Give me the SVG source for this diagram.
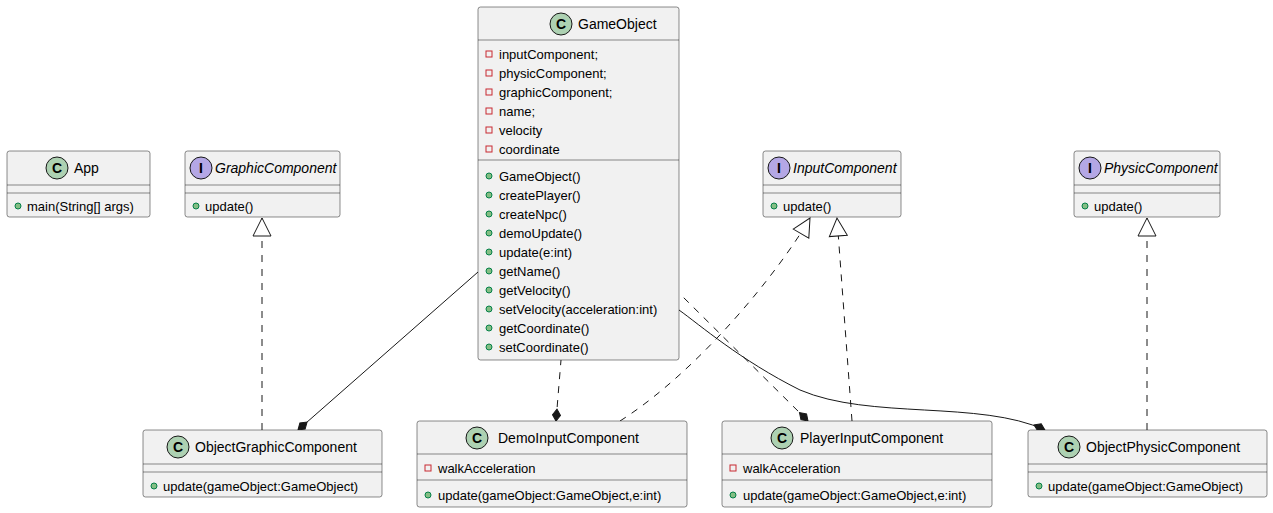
<svg xmlns="http://www.w3.org/2000/svg" width="1273" height="513" viewBox="0 0 1273 513">
<style>
.box{fill:#F1F1F1;stroke:#181818;stroke-width:0.5}
.sep{stroke:#181818;stroke-width:0.5}
text{font-family:"Liberation Sans",Arial,sans-serif;fill:#000}
.n{font-size:14px}
.i{font-size:14px;font-style:italic}
.m{font-size:13px}
.ci{stroke:#181818;stroke-width:1}
.cl{font-size:14px;font-weight:bold;text-anchor:middle}
.pub{fill:#84BE84;stroke:#038048;stroke-width:1}
.priv{fill:none;stroke:#C82930;stroke-width:1}
.e{fill:none;stroke:#181818;stroke-width:1}
.d{stroke-dasharray:7,7}
</style>
<defs>
<marker id="tri" viewBox="0 0 20 20" refX="19" refY="10" markerWidth="20" markerHeight="20" markerUnits="userSpaceOnUse" orient="auto"><path d="M1,1 L19,10 L1,19 Z" fill="#fff" stroke="#181818"/></marker>
<marker id="dia" viewBox="0 0 14 10" refX="1" refY="5" markerWidth="14" markerHeight="10" markerUnits="userSpaceOnUse" orient="auto"><path d="M1,5 L7,1 L13,5 L7,9 Z" fill="#181818" stroke="#181818"/></marker>
</defs>
<g id="edges">
<path class="e d" d="M262,430 L262,218" marker-end="url(#tri)"/>
<path class="e d" d="M620,421 C700,370 780,270 810,218" marker-end="url(#tri)"/>
<path class="e d" d="M852,421 L837,218" marker-end="url(#tri)"/>
<path class="e d" d="M1147,430 L1147,218" marker-end="url(#tri)"/>
<path class="e" d="M298,430 L478,272" marker-start="url(#dia)"/>
<path class="e d" d="M556,421 L561,360" marker-start="url(#dia)"/>
<path class="e d" d="M808,421 L679,293" marker-start="url(#dia)"/>
<path class="e" d="M1045,430 C980,400 870,420 800,390 C740,360 700,325 679,310" marker-start="url(#dia)"/>
</g>
<g id="App">
<rect class="box" x="7" y="151" width="143" height="66" rx="2.5"/>
<circle class="ci" cx="57" cy="168" r="11" fill="#ADD1B2"/><text class="cl" x="57" y="173">C</text>
<text class="n" x="74" y="173">App</text>
<line class="sep" x1="7" y1="185" x2="150" y2="185"/><line class="sep" x1="7" y1="193" x2="150" y2="193"/>
<circle class="pub" cx="18" cy="206" r="3"/><text class="m" x="27" y="211">main(String[] args)</text>
</g>
<g id="GraphicComponent">
<rect class="box" x="185" y="151" width="155" height="66" rx="2.5"/>
<circle class="ci" cx="201" cy="168" r="11" fill="#B4A7E5"/><text class="cl" x="201" y="173">I</text>
<text class="i" x="215" y="173">GraphicComponent</text>
<line class="sep" x1="185" y1="185" x2="340" y2="185"/><line class="sep" x1="185" y1="193" x2="340" y2="193"/>
<circle class="pub" cx="196" cy="206" r="3"/><text class="m" x="205" y="211">update()</text>
</g>
<g id="GameObject">
<rect class="box" x="478" y="7" width="201" height="353" rx="2.5"/>
<circle class="ci" cx="561" cy="24" r="11" fill="#ADD1B2"/><text class="cl" x="561" y="29">C</text>
<text class="n" x="578" y="29">GameObject</text>
<line class="sep" x1="478" y1="40" x2="679" y2="40"/>
<g class="m">
<rect class="priv" x="486" y="51" width="6" height="6"/><text class="m" x="499" y="59">inputComponent;</text>
<rect class="priv" x="486" y="70" width="6" height="6"/><text class="m" x="499" y="78">physicComponent;</text>
<rect class="priv" x="486" y="89" width="6" height="6"/><text class="m" x="499" y="97">graphicComponent;</text>
<rect class="priv" x="486" y="108" width="6" height="6"/><text class="m" x="499" y="116">name;</text>
<rect class="priv" x="486" y="127" width="6" height="6"/><text class="m" x="499" y="135">velocity</text>
<rect class="priv" x="486" y="146" width="6" height="6"/><text class="m" x="499" y="154">coordinate</text>
</g>
<line class="sep" x1="478" y1="160" x2="679" y2="160"/>
<circle class="pub" cx="489" cy="176" r="3"/><text class="m" x="499" y="181">GameObject()</text>
<circle class="pub" cx="489" cy="195" r="3"/><text class="m" x="499" y="200">createPlayer()</text>
<circle class="pub" cx="489" cy="214" r="3"/><text class="m" x="499" y="219">createNpc()</text>
<circle class="pub" cx="489" cy="233" r="3"/><text class="m" x="499" y="238">demoUpdate()</text>
<circle class="pub" cx="489" cy="252" r="3"/><text class="m" x="499" y="257">update(e:int)</text>
<circle class="pub" cx="489" cy="271" r="3"/><text class="m" x="499" y="276">getName()</text>
<circle class="pub" cx="489" cy="290" r="3"/><text class="m" x="499" y="295">getVelocity()</text>
<circle class="pub" cx="489" cy="309" r="3"/><text class="m" x="499" y="314">setVelocity(acceleration:int)</text>
<circle class="pub" cx="489" cy="328" r="3"/><text class="m" x="499" y="333">getCoordinate()</text>
<circle class="pub" cx="489" cy="347" r="3"/><text class="m" x="499" y="352">setCoordinate()</text>
</g>
<g id="InputComponent">
<rect class="box" x="763" y="151" width="138" height="66" rx="2.5"/>
<circle class="ci" cx="779" cy="168" r="11" fill="#B4A7E5"/><text class="cl" x="779" y="173">I</text>
<text class="i" x="793" y="173">InputComponent</text>
<line class="sep" x1="763" y1="185" x2="901" y2="185"/><line class="sep" x1="763" y1="193" x2="901" y2="193"/>
<circle class="pub" cx="774" cy="206" r="3"/><text class="m" x="783" y="211">update()</text>
</g>
<g id="PhysicComponent">
<rect class="box" x="1074" y="151" width="146" height="66" rx="2.5"/>
<circle class="ci" cx="1090" cy="168" r="11" fill="#B4A7E5"/><text class="cl" x="1090" y="173">I</text>
<text class="i" x="1104" y="173">PhysicComponent</text>
<line class="sep" x1="1074" y1="185" x2="1220" y2="185"/><line class="sep" x1="1074" y1="193" x2="1220" y2="193"/>
<circle class="pub" cx="1085" cy="206" r="3"/><text class="m" x="1094" y="211">update()</text>
</g>
<g id="ObjectGraphicComponent">
<rect class="box" x="143" y="430" width="239" height="67" rx="2.5"/>
<circle class="ci" cx="178" cy="447" r="11" fill="#ADD1B2"/><text class="cl" x="178" y="452">C</text>
<text class="n" x="195" y="452">ObjectGraphicComponent</text>
<line class="sep" x1="143" y1="464" x2="382" y2="464"/><line class="sep" x1="143" y1="472" x2="382" y2="472"/>
<circle class="pub" cx="154" cy="486" r="3"/><text class="m" x="163" y="491">update(gameObject:GameObject)</text>
</g>
<g id="DemoInputComponent">
<rect class="box" x="417" y="421" width="270" height="86" rx="2.5"/>
<circle class="ci" cx="477" cy="438" r="11" fill="#ADD1B2"/><text class="cl" x="477" y="443">C</text>
<text class="n" x="498" y="443">DemoInputComponent</text>
<line class="sep" x1="417" y1="454" x2="687" y2="454"/>
<rect class="priv" x="425" y="465" width="6" height="6"/><text class="m" x="438" y="473">walkAcceleration</text>
<line class="sep" x1="417" y1="480" x2="687" y2="480"/>
<circle class="pub" cx="428" cy="495" r="3"/><text class="m" x="438" y="500">update(gameObject:GameObject,e:int)</text>
</g>
<g id="PlayerInputComponent">
<rect class="box" x="722" y="421" width="270" height="86" rx="2.5"/>
<circle class="ci" cx="782" cy="438" r="11" fill="#ADD1B2"/><text class="cl" x="782" y="443">C</text>
<text class="n" x="800" y="443">PlayerInputComponent</text>
<line class="sep" x1="722" y1="454" x2="992" y2="454"/>
<rect class="priv" x="730" y="465" width="6" height="6"/><text class="m" x="743" y="473">walkAcceleration</text>
<line class="sep" x1="722" y1="480" x2="992" y2="480"/>
<circle class="pub" cx="733" cy="495" r="3"/><text class="m" x="743" y="500">update(gameObject:GameObject,e:int)</text>
</g>
<g id="ObjectPhysicComponent">
<rect class="box" x="1028" y="430" width="239" height="67" rx="2.5"/>
<circle class="ci" cx="1069" cy="447" r="11" fill="#ADD1B2"/><text class="cl" x="1069" y="452">C</text>
<text class="n" x="1086" y="452">ObjectPhysicComponent</text>
<line class="sep" x1="1028" y1="464" x2="1267" y2="464"/><line class="sep" x1="1028" y1="472" x2="1267" y2="472"/>
<circle class="pub" cx="1039" cy="486" r="3"/><text class="m" x="1048" y="491">update(gameObject:GameObject)</text>
</g>
</svg>
